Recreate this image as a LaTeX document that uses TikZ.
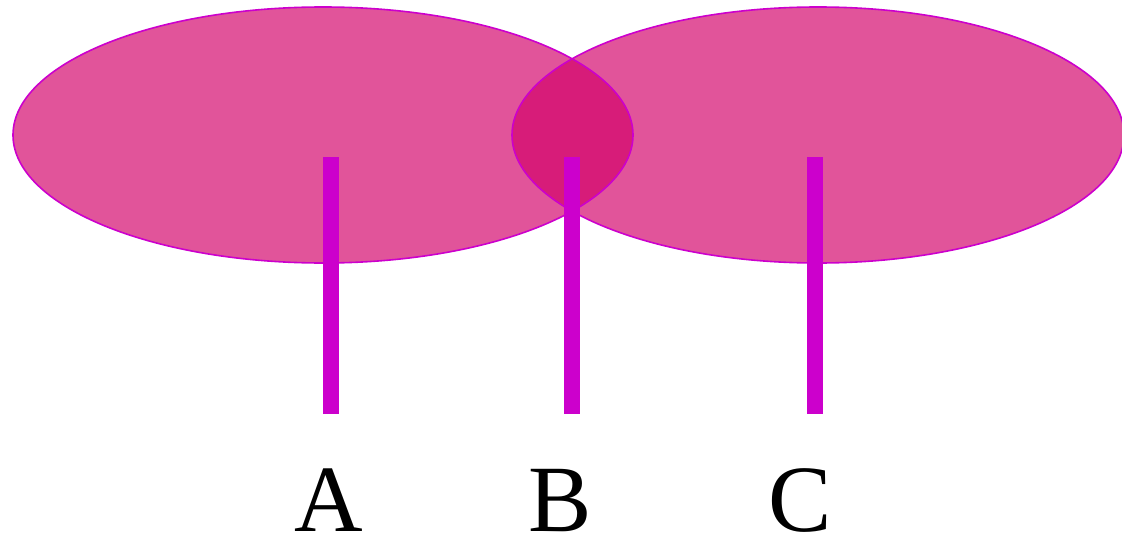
\documentclass[tikz,border=0pt]{standalone}
\usepackage{fontspec}
\setmainfont{Liberation Serif}
\usetikzlibrary{shapes.geometric}
\definecolor{pinkfill}{RGB}{210,0,105}
\definecolor{magline}{RGB}{204,0,204}
\begin{document}
\begin{tikzpicture}[x=1pt,y=-1pt,
  blob/.style={ellipse,inner sep=0pt,fill=pinkfill,fill opacity=0.67},
  blobline/.style={ellipse,inner sep=0pt,draw=magline,line width=1.6pt},
  bar/.style={draw=magline,line width=16pt},
  lab/.style={anchor=base,inner sep=0pt,font=\fontsize{95}{95}\selectfont}]
\useasboundingbox (0,0) rectangle (1122,538);
\node[blob,minimum width=620pt,minimum height=256pt] (L) at (323,135) {};
\node[blob,minimum width=612pt,minimum height=256pt] (R) at (818,135) {};
\node[blobline,minimum width=620pt,minimum height=256pt] (Lo) at (323,135) {};
\node[blobline,minimum width=612pt,minimum height=256pt] (Ro) at (818,135) {};
\coordinate (a1) at (331,157); \coordinate (a2) at (331,414);
\coordinate (b1) at (572,157); \coordinate (b2) at (572,414);
\coordinate (c1) at (815,157); \coordinate (c2) at (815,414);
\draw[bar] (a1) -- (a2);
\draw[bar] (b1) -- (b2);
\draw[bar] (c1) -- (c2);
\node[lab] (A) at (329,531) {A};
\node[lab] (B) at (560,531) {B};
\node[lab] (C) at (800,531) {C};
\end{tikzpicture}
\end{document}
